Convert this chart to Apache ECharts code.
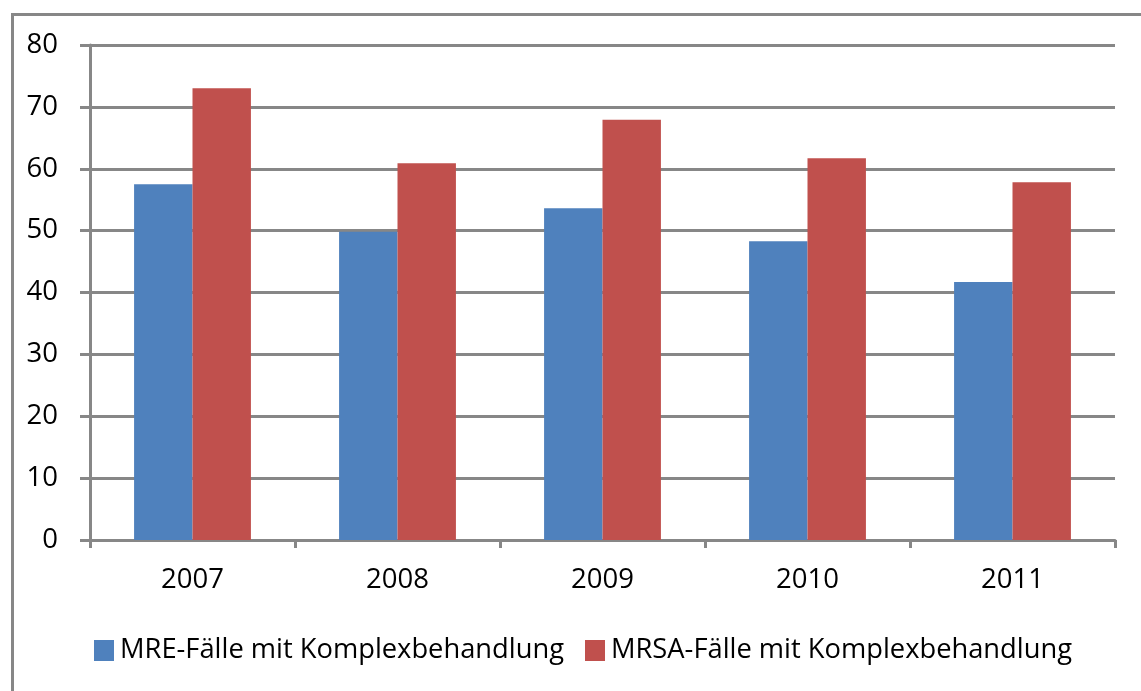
<!DOCTYPE html>
<html>
<head>
<meta charset="utf-8">
<script src="https://cdn.jsdelivr.net/npm/echarts@6/dist/echarts.min.js"></script>
<style>
html,body{margin:0;padding:0;background:#fff;}
#c{width:1141px;height:691px;}
</style>
</head>
<body>
<div id="c"></div>
<script>
const categories = ['2007', '2008', '2009', '2010', '2011'];
const mreValues = [57.5, 49.8, 53.6, 48.3, 41.7];
const mrsaValues = [73.0, 60.9, 67.9, 61.7, 57.8];
const seriesNames = ['MRE-Fälle mit Komplexbehandlung', 'MRSA-Fälle mit Komplexbehandlung'];

const FONT = 'Open Sans';
const GRAY = '#878787';
const chart = echarts.init(document.getElementById('c'), null, {renderer: 'canvas'});
chart.setOption({
  animation: false,
  backgroundColor: '#fff',
  graphic: [{
    type: 'rect', left: 10, top: 12, z: -1,
    shape: {width: 1300, height: 900},
    style: {fill: 'none', stroke: GRAY, lineWidth: 3}
  }],
  grid: {left: 90, right: 26, top: 45, bottom: 151, containLabel: false},
  legend: {
    left: 89, top: 632,
    itemWidth: 20, itemHeight: 21, itemGap: 21,
    icon: 'rect',
    textStyle: {fontFamily: FONT, fontSize: 27.3, color: '#000', padding: [0, 0, 0, 1]},
    data: seriesNames
  },
  xAxis: {
    type: 'category', data: categories,
    axisLine: {lineStyle: {color: GRAY, width: 3}},
    axisTick: {show: true, length: 8, lineStyle: {color: GRAY, width: 3}},
    axisLabel: {fontFamily: FONT, fontSize: 27.5, color: '#000', margin: 26}
  },
  yAxis: {
    type: 'value', min: 0, max: 80, interval: 10,
    axisLine: {show: true, lineStyle: {color: GRAY, width: 3}},
    axisTick: {show: true, length: 10, lineStyle: {color: GRAY, width: 3}},
    splitLine: {show: true, lineStyle: {color: GRAY, width: 3}},
    axisLabel: {fontFamily: FONT, fontSize: 27.5, color: '#000', margin: 32}
  },
  series: [
    {name: seriesNames[0], type: 'bar', data: mreValues, itemStyle: {color: '#4F81BD'},
     barGap: '0%', barCategoryGap: '43%'},
    {name: seriesNames[1], type: 'bar', data: mrsaValues, itemStyle: {color: '#C0504D'},
     barGap: '0%', barCategoryGap: '43%'}
  ]
});
</script>
</body>
</html>
